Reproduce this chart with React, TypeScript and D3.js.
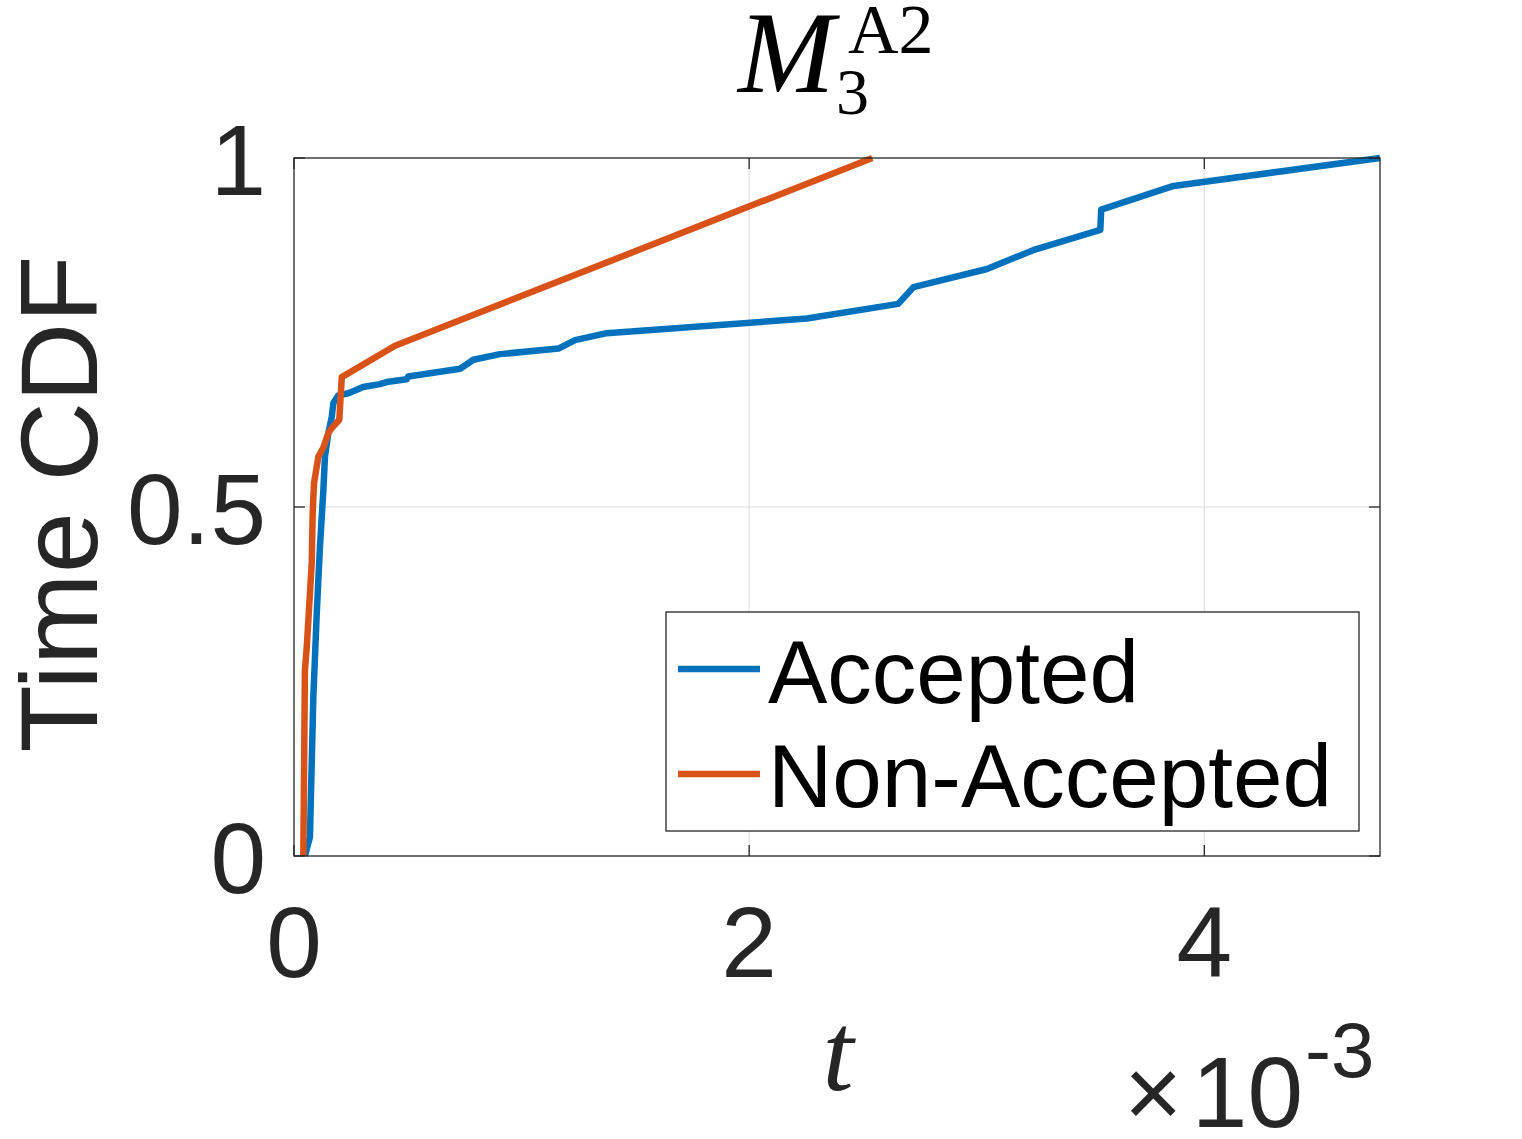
import React, { useEffect } from 'react';
import * as d3 from 'd3';

// t values in units of 1e-3
const tAccepted = [0.048, 0.070, 0.085, 0.100, 0.114, 0.129, 0.136, 0.151, 0.166, 0.173, 0.195, 0.239, 0.276, 0.303, 0.378, 0.407, 0.495, 0.502, 0.730, 0.788, 0.905, 1.162, 1.235, 1.374, 2.254, 2.655, 2.722, 3.045, 3.248, 3.543, 3.547, 3.865, 4.772];
const cdfAccepted = [0.0, 0.027, 0.228, 0.348, 0.443, 0.524, 0.572, 0.606, 0.629, 0.649, 0.660, 0.663, 0.668, 0.672, 0.676, 0.679, 0.683, 0.687, 0.698, 0.711, 0.719, 0.727, 0.739, 0.749, 0.770, 0.791, 0.815, 0.841, 0.868, 0.897, 0.926, 0.960, 1.0];

const tNonAccepted = [0.041, 0.048, 0.056, 0.078, 0.082, 0.088, 0.107, 0.129, 0.151, 0.166, 0.199, 0.210, 0.444, 2.541];
const cdfNonAccepted = [0.0, 0.266, 0.299, 0.420, 0.491, 0.534, 0.572, 0.585, 0.606, 0.613, 0.625, 0.686, 0.731, 1.0];

const xTicks = [0, 2, 4];
const xTickLabels = ['0', '2', '4'];
const yTicks = [0, 0.5, 1];
const yTickLabels = ['0', '0.5', '1'];
const seriesNames = ['Accepted', 'Non-Accepted'];
const seriesColors = ['#0072BD', '#D95319'];
const xDomain = [0, 4.772];
const yDomain = [0, 1];

export default function App() {
  useEffect(() => {
    document.body.style.margin = '0';
  }, []);

  const W = 1522, H = 1139;
  const left = 294, right = 1380, top = 158, bottom = 856;
  const x = d3.scaleLinear().domain(xDomain).range([left, right]);
  const y = d3.scaleLinear().domain(yDomain).range([bottom, top]);

  const line = d3.line<[number, number]>().x(d => x(d[0])).y(d => y(d[1]));
  const seriesData: [number, number][][] = [
    tAccepted.map((t, i) => [t, cdfAccepted[i]] as [number, number]),
    tNonAccepted.map((t, i) => [t, cdfNonAccepted[i]] as [number, number]),
  ];

  const axisColor = '#262626';
  const gridColor = '#dfdfdf';
  const sans = '"Liberation Sans", Arial, Helvetica, sans-serif';
  const serif = '"Liberation Serif", "Times New Roman", serif';
  const tickLen = 11;

  const legend = { x0: 666, y0: 612, x1: 1359, y1: 831 };
  const legendRows = [669, 774];
  const legendBaselines = [703, 807];

  return (
    <svg width={W} height={H} style={{ display: 'block', background: '#fff' }}>
      <rect x={0} y={0} width={W} height={H} fill="#fff" />
      {/* grid */}
      {xTicks.filter(v => v > xDomain[0] && v < xDomain[1]).map(v => (
        <line key={'gx' + v} x1={x(v)} x2={x(v)} y1={top} y2={bottom} stroke={gridColor} strokeWidth={1.2} />
      ))}
      {yTicks.filter(v => v > yDomain[0] && v < yDomain[1]).map(v => (
        <line key={'gy' + v} x1={left} x2={right} y1={y(v)} y2={y(v)} stroke={gridColor} strokeWidth={1.2} />
      ))}
      {/* lines */}
      {seriesData.map((d, i) => (
        <path key={'s' + i} d={line(d) || ''} fill="none" stroke={seriesColors[i]} strokeWidth={6.5} strokeLinejoin="round" strokeLinecap="butt" />
      ))}
      {/* box */}
      <rect x={left} y={top} width={right - left} height={bottom - top} fill="none" stroke={axisColor} strokeWidth={1.3} />
      {/* ticks */}
      {xTicks.map(v => (
        <g key={'tx' + v}>
          <line x1={x(v)} x2={x(v)} y1={bottom} y2={bottom - tickLen} stroke={axisColor} strokeWidth={1.3} />
          <line x1={x(v)} x2={x(v)} y1={top} y2={top + tickLen} stroke={axisColor} strokeWidth={1.3} />
        </g>
      ))}
      {yTicks.map(v => (
        <g key={'ty' + v}>
          <line x1={left} x2={left + tickLen} y1={y(v)} y2={y(v)} stroke={axisColor} strokeWidth={1.3} />
          <line x1={right} x2={right - tickLen} y1={y(v)} y2={y(v)} stroke={axisColor} strokeWidth={1.3} />
        </g>
      ))}
      {/* tick labels */}
      {xTicks.map((v, i) => (
        <text key={'lx' + v} x={x(v)} y={977} textAnchor="middle" fontFamily={sans} fontSize={100} fill={axisColor}>{xTickLabels[i]}</text>
      ))}
      {yTicks.map((v, i) => (
        <text key={'ly' + v} x={266} y={y(v) + 37} textAnchor="end" fontFamily={sans} fontSize={100} fill={axisColor}>{yTickLabels[i]}</text>
      ))}
      {/* exponent */}
      <text x={1124} y={1127} fontFamily={sans} fontSize={100} fill={axisColor}>×</text>
      <text x={1303} y={1127} textAnchor="end" fontFamily={sans} fontSize={100} fill={axisColor}>10</text>
      <text x={1305} y={1077} fontFamily={sans} fontSize={78} fill={axisColor}>-3</text>
      {/* axis labels */}
      <text x={838} y={1090} textAnchor="middle" fontFamily={serif} fontStyle="italic" fontSize={112} fill={axisColor}>t</text>
      <text transform="translate(97,504) rotate(-90)" textAnchor="middle" fontFamily={sans} fontSize={110} fill={axisColor}>Time CDF</text>
      {/* title */}
      <text x={738} y={92} fontFamily={serif} fontStyle="italic" fontSize={116} fill="#000">M</text>
      <text x={836} y={114} fontFamily={serif} fontSize={66} fill="#000">3</text>
      <text x={848} y={53} fontFamily={serif} fontSize={70} fill="#000">A2</text>
      {/* legend */}
      <rect x={legend.x0} y={legend.y0} width={legend.x1 - legend.x0} height={legend.y1 - legend.y0} fill="#fff" stroke={axisColor} strokeWidth={1.3} />
      {seriesNames.map((name, i) => (
        <g key={'leg' + i}>
          <line x1={678} x2={760} y1={legendRows[i]} y2={legendRows[i]} stroke={seriesColors[i]} strokeWidth={6.5} />
          <text x={768} y={legendBaselines[i]} fontFamily={sans} fontSize={89} fill="#000">{name}</text>
        </g>
      ))}
    </svg>
  );
}
